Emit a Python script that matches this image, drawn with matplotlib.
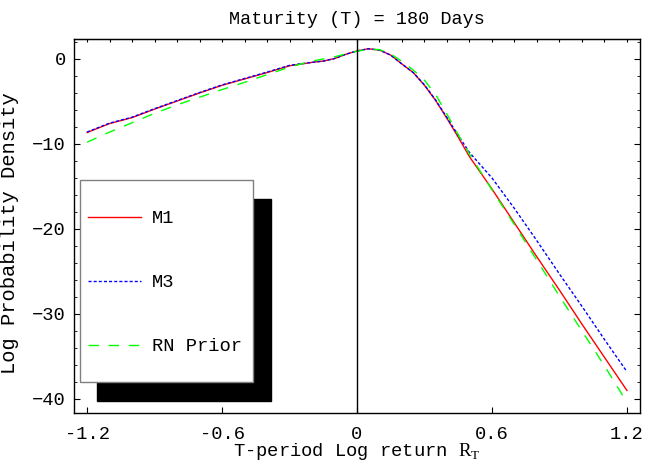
import matplotlib
matplotlib.use('Agg')
import matplotlib.pyplot as plt
from matplotlib.patches import Rectangle
from matplotlib.ticker import MultipleLocator

# data (log return vs log density)
x_vals = [-1.2, -1.1, -1.0, -0.9, -0.8, -0.7, -0.6, -0.5, -0.4, -0.3, -0.2, -0.15,
          -0.1, -0.05, 0.0, 0.05, 0.1, 0.15, 0.2, 0.25, 0.3, 0.35, 0.4, 0.45,
          0.5, 0.6, 0.7, 0.8, 0.9, 1.0, 1.1, 1.2]
m1_vals = [-8.65, -7.6, -6.9, -5.9, -4.95, -4.0, -3.1, -2.35, -1.6, -0.8, -0.4, -0.25,
           0.05, 0.55, 0.95, 1.2, 1.05, 0.45, -0.6, -1.6, -3.1, -4.9, -7.0, -9.2,
           -11.5, -15.3, -19.3, -23.3, -27.2, -31.2, -35.1, -39.0]
m3_vals = [-8.6, -7.55, -6.85, -5.85, -4.9, -3.95, -3.05, -2.3, -1.55, -0.75, -0.4, -0.25,
           0.05, 0.55, 0.95, 1.2, 1.05, 0.45, -0.6, -1.6, -3.05, -4.85, -6.9, -9.0,
           -11.0, -14.0, -17.6, -21.4, -25.3, -29.1, -33.0, -36.8]
prior_vals = [-9.8, -8.6, -7.5, -6.4, -5.4, -4.5, -3.6, -2.75, -1.85, -0.95, -0.25, 0.0,
              0.25, 0.6, 0.9, 1.15, 1.1, 0.6, -0.3, -1.3, -2.5, -4.2, -6.5, -8.9,
              -11.2, -15.4, -19.5, -23.7, -27.9, -32.0, -36.1, -40.4]

x_ticks = [-1.2, -0.6, 0, 0.6, 1.2]
x_tick_labels = ['-1.2', '-0.6', '0', '0.6', '1.2']
y_ticks = [0, -10, -20, -30, -40]

FONT = ['Liberation Mono', 'DejaVu Sans Mono']
plt.rcParams['font.family'] = FONT
plt.rcParams['font.size'] = 13.5
plt.rcParams['mathtext.fontset'] = 'custom'
plt.rcParams['mathtext.rm'] = 'Liberation Serif'

W, H = 647, 465


def fx(px):
    return px / W


def fy(py):
    return 1 - py / H


fig = plt.figure(figsize=(6.47, 4.65), dpi=100)
ax = fig.add_axes([fx(74), fy(413), (640 - 74) / W, (413 - 39) / H])

ax.plot(x_vals, m1_vals, color='#ff0000', lw=1.0, label='M1')
ax.plot(x_vals, m3_vals, color='#0000ff', lw=1.0, linestyle=(0, (2.2, 1.5)), label='M3')
ax.plot(x_vals, prior_vals, color='#00ff00', lw=1.0, linestyle=(0, (7.5, 7)), label='RN Prior')
ax.axvline(0, color='black', lw=1.0)

ax.set_xlim(-1.258, 1.258)
ax.set_ylim(-41.65, 2.35)
ax.set_xticks(x_ticks)
ax.set_xticklabels(x_tick_labels)
ax.set_yticks(y_ticks)
ax.yaxis.set_minor_locator(MultipleLocator(2))
ax.tick_params(which='both', direction='in', top=False, right=True, colors='black')
ax.tick_params(axis='x', which='major', length=4, pad=9)
ax.tick_params(axis='y', which='major', length=4, pad=6)
ax.tick_params(which='minor', length=2.5)

# top axis: small ticks every 0.1, no labels
top = ax.secondary_xaxis('top')
top.set_xticks([i / 10 for i in range(-12, 13)])
top.set_xticklabels([])
top.tick_params(direction='in', length=2.5)

for s in ax.spines.values():
    s.set_linewidth(1.0)

ax.set_title('Maturity (T) = 180 Days', fontsize=13.3, pad=11)
ax.set_xlabel(r'T-period Log return $\mathrm{R}_\mathrm{T}$', labelpad=-1)
ax.set_ylabel('Log Probability Density', fontsize=14.8)
ax.yaxis.set_label_coords(-0.098, 0.48)

# legend box with black drop shadow
ax.add_patch(Rectangle((fx(97), fy(401)), (271 - 97) / W, (401 - 199) / H,
                       transform=fig.transFigure, facecolor='black',
                       edgecolor='black', clip_on=False, zorder=3))
ax.add_patch(Rectangle((fx(80), fy(382)), (253 - 80) / W, (382 - 180) / H,
                       transform=fig.transFigure, facecolor='white',
                       edgecolor='#808080', lw=1.0, clip_on=False, zorder=4))
leg = ax.legend(loc='upper left', bbox_to_anchor=(fx(88), fy(210)),
                bbox_transform=fig.transFigure, frameon=False,
                handlelength=2.8, handletextpad=0.6, labelspacing=2.5,
                borderpad=0, borderaxespad=0)
leg.set_zorder(5)

fig.savefig('out.png', dpi=100)
